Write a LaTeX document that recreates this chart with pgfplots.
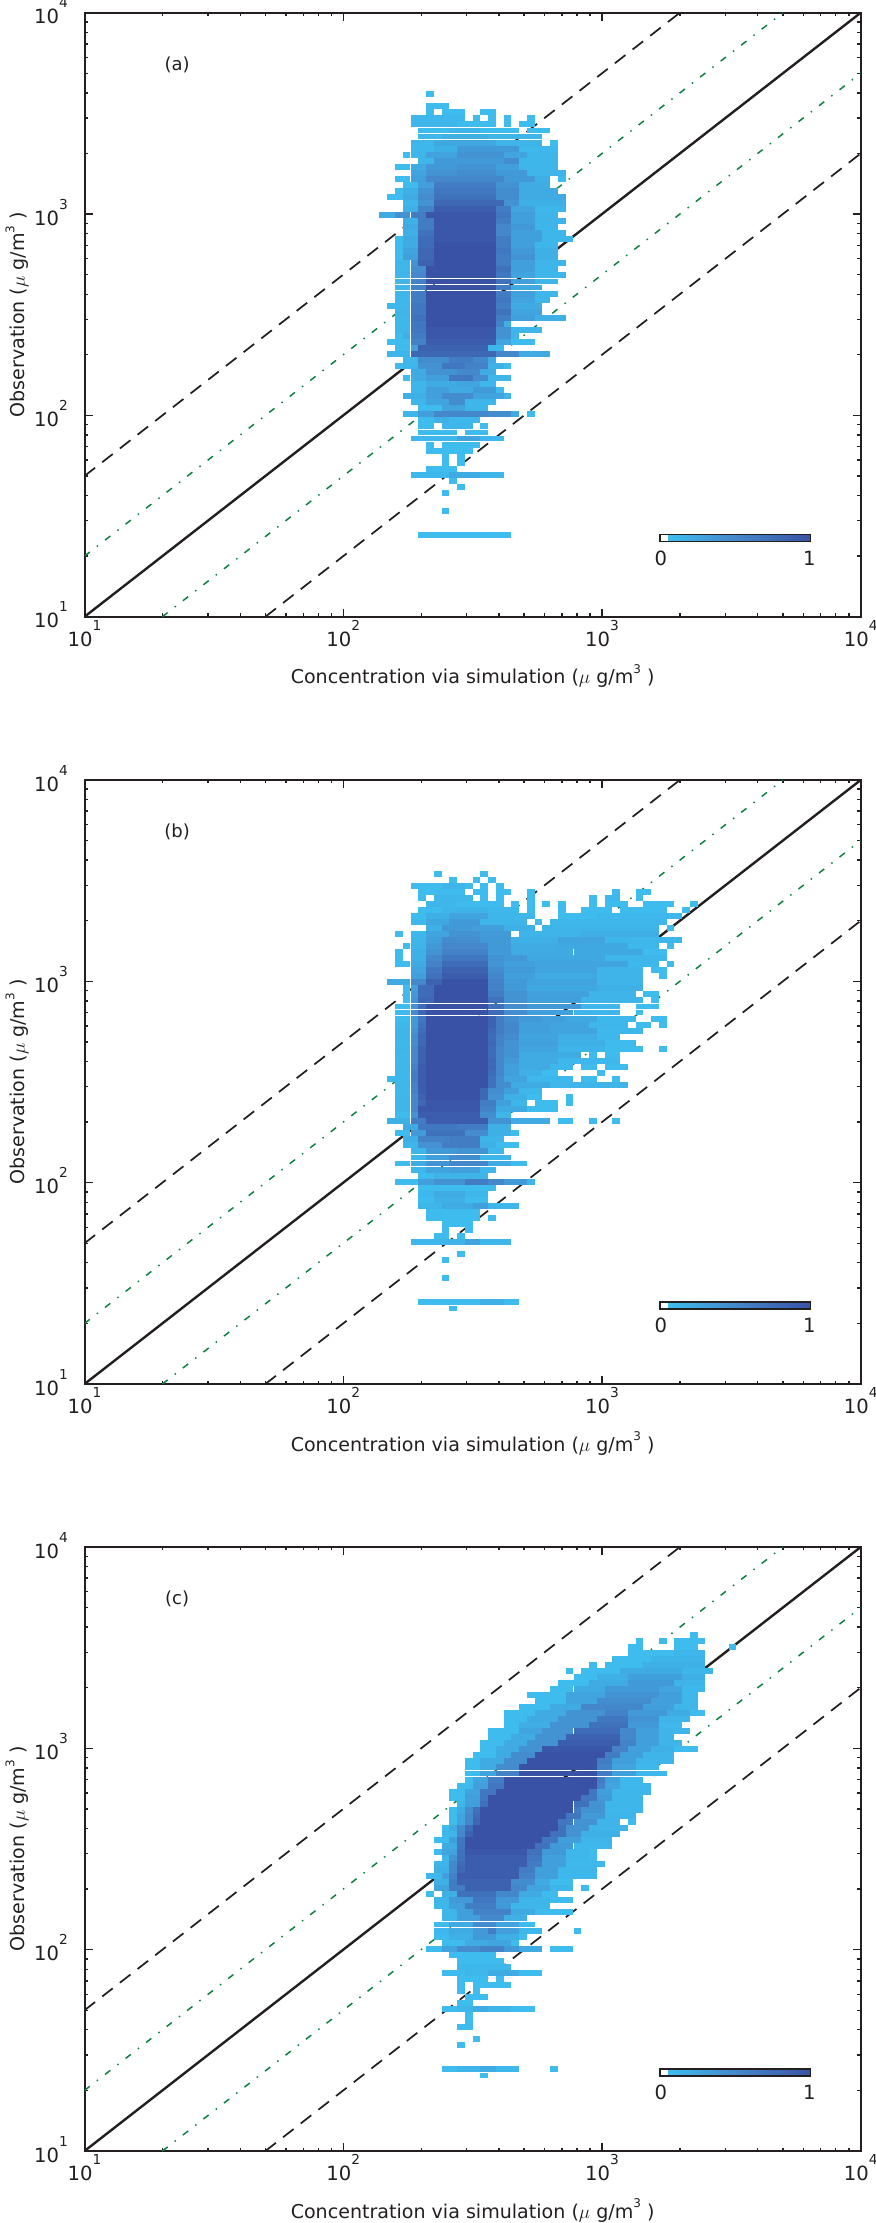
\documentclass[border=0pt]{standalone}
\usepackage{fontspec}
\setmainfont{DejaVu Sans}
\usepackage{pgfplots}
\pgfplotsset{compat=1.18}

\definecolor{ink}{RGB}{35,31,32}
\definecolor{guide}{RGB}{10,128,64}
\newcommand\tickexp[1]{10\smash{\raisebox{12pt}{\fontsize{10.3}{10}\selectfont #1}}}
\newcommand\unitlab{($\mu$ g/m\raisebox{8pt}{\fontsize{9}{9}\selectfont 3}\ )}
\providecommand\thisrow[1]{1}

% one run of neighbouring histogram cells, \runn cells wide
\pgfdeclareplotmark{run}{%
  \pgfpathrectangle{\pgfpoint{0pt}{0.04pt}}{\pgfpoint{\runn*5.82pt-0.04pt}{4.45pt}}%
  \pgfusepathqfill}
% one step of the colour key
\pgfdeclareplotmark{keystep}{%
  \pgfpathrectangle{\pgfpoint{0pt}{-2.15pt}}{\pgfpoint{2.9pt}{4.3pt}}%
  \pgfusepathqfill}

% both axes run over 100 log-spaced bins: bin 0 = 10, bin 100 = 10^4
\pgfplotsset{
  colormap={bins}{rgb255(0cm)=(255,255,255); rgb255(4.6cm)=(255,255,255); rgb255(5cm)=(62,188,238); rgb255(50cm)=(68,135,203); rgb255(100cm)=(58,82,165)},
  binpanel/.style={
    scale only axis, width=582.15pt, height=453pt,
    xmin=0, xmax=100, ymin=0, ymax=100,
    xtick={0,33.333,66.667,100}, ytick={0,33.333,66.667,100},
    xticklabels={\tickexp{1},\tickexp{2},\tickexp{3},\tickexp{4}},
    yticklabels={\tickexp{1},\tickexp{2},\tickexp{3},\tickexp{4}},
    minor xtick={10.03,15.9,20.07,23.3,25.94,28.17,30.1,31.81,43.37,49.24,53.4,56.63,59.27,61.5,63.43,65.14,76.7,82.57,86.73,89.97,92.6,94.84,96.77,98.48},
    minor ytick={10.03,15.9,20.07,23.3,25.94,28.17,30.1,31.81,43.37,49.24,53.4,56.63,59.27,61.5,63.43,65.14,76.7,82.57,86.73,89.97,92.6,94.84,96.77,98.48},
    axis line style={line width=1.5pt, color=ink},
    major tick length=6pt, minor tick length=2.6pt,
    tick style={line width=1pt, color=ink},
    tick label style={font=\fontsize{14.7}{16}\selectfont, text=ink},
    xticklabel style={yshift=-8pt},
    yticklabel style={xshift=-9pt, yshift=-3pt},
    label style={font=\fontsize{14.3}{16}\selectfont, text=ink},
    xlabel={Concentration via simulation \unitlab},
    xlabel style={at={(axis description cs:0.5,-0.111)}, anchor=base},
    ylabel={Observation \unitlab},
    ylabel style={at={(axis description cs:-0.0767,0.5)}, anchor=base},
    point meta min=0, point meta max=1
  },
  keybar/.style={
    scale only axis, width=111.5pt, height=4.3pt,
    xmin=0, xmax=1, ymin=0, ymax=1,
    axis line style={line width=1.9pt, color=ink},
    xtick={0,1}, xticklabels={0,1}, ytick=\empty, major tick length=0pt,
    tick label style={font=\fontsize{14.7}{16}\selectfont, text=ink},
    xticklabel style={yshift=-4pt},
    point meta min=0, point meta max=1,
    axis on top
  }
}
\newcommand\guides{%
  \addplot[forget plot, ink, line width=1.3pt, dash pattern=on 10pt off 6.8pt] coordinates {(0,23.3)(76.7,100)};
  \addplot[forget plot, ink, line width=1.3pt, dash pattern=on 10pt off 6.8pt] coordinates {(23.3,0)(100,76.7)};
  \addplot[forget plot, guide, line width=1.1pt, dash pattern=on 5pt off 6.7pt on 1.1pt off 6.7pt] coordinates {(0,10.03)(89.97,100)};
  \addplot[forget plot, guide, line width=1.1pt, dash pattern=on 5pt off 6.7pt on 1.1pt off 6.7pt] coordinates {(10.03,0)(100,89.97)};
  \addplot[forget plot, ink, line width=1.8pt] coordinates {(0,0)(100,100)};
}
\newcommand\keypoints{%
  \addplot[scatter, only marks, point meta=x, mark=keystep] coordinates {(0,.5)(.025,.5)(.05,.5)(.075,.5)(.1,.5)(.125,.5)(.15,.5)(.175,.5)(.2,.5)(.225,.5)(.25,.5)(.275,.5)(.3,.5)(.325,.5)(.35,.5)(.375,.5)(.4,.5)(.425,.5)(.45,.5)(.475,.5)(.5,.5)(.525,.5)(.55,.5)(.575,.5)(.6,.5)(.625,.5)(.65,.5)(.675,.5)(.7,.5)(.725,.5)(.75,.5)(.775,.5)(.8,.5)(.825,.5)(.85,.5)(.875,.5)(.9,.5)(.925,.5)(.95,.5)(.975,.5)};
}

\begin{document}
\begin{tikzpicture}
\useasboundingbox (0,0) rectangle (656.25pt,1667.25pt);
% i = first x bin, n = bins in the run, j = y bin, v = normalised count
\begin{axis}[binpanel, anchor=south west, at={(63.4pt,1204.7pt)}]
  \addplot[scatter, only marks, visualization depends on={\thisrow{n} \as \runn}, point meta=explicit, mark=run] table[row sep=\\, x=i, y=j, meta=v] {
i n j v\\
44 1 86 .05\\
44 3 84 .05\\
44 1 83 .05\\ 46 3 83 .05\\ 51 2 83 .05\\
42 7 82 .08\\ 50 1 82 .05\\ 52 1 82 .05\\ 54 1 82 .05\\ 57 1 82 .05\\
42 6 81 .1\\ 48 5 81 .05\\ 54 1 81 .05\\ 56 2 81 .05\\
43 4 80 .05\\ 47 4 80 .12\\ 51 5 80 .05\\ 57 3 80 .05\\
43 3 79 .08\\ 46 6 79 .15\\ 52 7 79 .1\\
42 3 78 .1\\ 45 8 78 .22\\ 53 6 78 .12\\ 60 1 78 .05\\
42 3 77 .08\\ 45 3 77 .15\\ 48 8 77 .35\\ 56 5 77 .08\\
41 1 76 .05\\ 42 2 76 .1\\ 44 4 76 .25\\ 48 6 76 .4\\ 54 3 76 .25\\ 57 4 76 .1\\
43 2 75 .1\\ 45 9 75 .35\\ 54 2 75 .45\\ 56 5 75 .1\\
40 2 74 .05\\ 42 2 74 .2\\ 44 4 74 .35\\ 48 5 74 .4\\ 53 3 74 .3\\ 56 5 74 .1\\
42 2 73 .25\\ 44 4 73 .4\\ 48 5 73 .45\\ 53 4 73 .35\\ 57 5 73 .12\\
40 2 72 .05\\ 42 2 72 .3\\ 44 10 72 .5\\ 54 4 72 .35\\ 58 2 72 .15\\ 61 1 72 .05\\
41 2 71 .05\\ 43 2 71 .3\\ 45 8 71 .6\\ 53 3 71 .4\\ 56 4 71 .2\\
40 1 70 .05\\ 41 2 70 .15\\ 43 2 70 .4\\ 45 8 70 .65\\ 53 3 70 .45\\ 56 5 70 .2\\
39 2 69 .05\\ 41 2 69 .2\\ 43 2 69 .45\\ 45 8 69 .7\\ 53 3 69 .45\\ 56 6 69 .2\\
41 2 68 .1\\ 43 2 68 .4\\ 45 9 68 .8\\ 54 2 68 .4\\ 56 6 68 .15\\
41 2 67 .15\\ 43 2 67 .55\\ 45 8 67 .9\\ 53 2 67 .6\\ 55 3 67 .25\\ 58 4 67 .1\\
38 2 66 .2\\ 40 2 66 .4\\ 42 2 66 .6\\ 44 9 66 .95\\ 53 2 66 .65\\ 55 3 66 .3\\ 58 3 66 .12\\
41 2 65 .15\\ 43 2 65 .6\\ 45 8 65 .95\\ 53 2 65 .6\\ 55 3 65 .3\\ 58 4 65 .12\\
41 2 64 .2\\ 43 2 64 .6\\ 45 8 64 .95\\ 53 2 64 .5\\ 55 3 64 .35\\ 58 3 64 .1\\
41 2 63 .15\\ 43 2 63 .7\\ 45 8 63 .95\\ 53 2 63 .5\\ 55 4 63 .3\\ 59 3 63 .1\\
40 1 62 .05\\ 41 2 62 .2\\ 43 2 62 .75\\ 45 8 62 .95\\ 53 2 62 .6\\ 55 4 62 .3\\ 59 4 62 .1\\
40 1 61 .05\\ 41 2 61 .2\\ 43 2 61 .75\\ 45 8 61 1\\ 53 2 61 .6\\ 55 3 61 .3\\ 58 3 61 .1\\
40 1 60 .05\\ 41 2 60 .25\\ 43 2 60 .8\\ 45 8 60 1\\ 53 2 60 .65\\ 55 3 60 .35\\ 58 3 60 .15\\
40 1 59 .05\\ 41 2 59 .3\\ 43 2 59 .8\\ 45 8 59 1\\ 53 2 59 .6\\ 55 3 59 .4\\ 58 3 59 .15\\
40 2 58 .1\\ 42 1 58 .4\\ 43 2 58 .85\\ 45 8 58 1\\ 53 2 58 .6\\ 55 3 58 .3\\ 58 4 58 .12\\
40 2 57 .08\\ 42 2 57 .45\\ 44 9 57 1\\ 53 2 57 .7\\ 55 3 57 .3\\ 58 3 57 .1\\
40 2 56 .1\\ 42 2 56 .5\\ 44 9 56 1\\ 53 2 56 .65\\ 55 3 56 .25\\ 58 4 56 .1\\
40 2 55 .1\\ 42 2 55 .55\\ 44 9 55 1\\ 53 2 55 .7\\ 55 3 55 .3\\ 58 3 55 .12\\
40 2 54 .08\\ 42 2 54 .55\\ 44 9 54 1\\ 53 2 54 .6\\ 55 4 54 .2\\
40 2 53 .1\\ 42 2 53 .6\\ 44 9 53 1\\ 53 2 53 .6\\ 55 3 53 .3\\ 58 3 53 .1\\
40 2 52 .08\\ 42 2 52 .6\\ 44 9 52 1\\ 53 2 52 .65\\ 55 3 52 .25\\ 58 2 52 .1\\
39 3 51 .08\\ 42 2 51 .65\\ 44 9 51 1\\ 53 2 51 .6\\ 55 4 51 .2\\
40 2 50 .12\\ 42 2 50 .65\\ 44 9 50 1\\ 53 2 50 .7\\ 55 4 50 .25\\
40 2 49 .1\\ 42 2 49 .7\\ 44 9 49 1\\ 53 2 49 .6\\ 55 3 49 .3\\ 58 4 49 .15\\
40 2 48 .08\\ 42 2 48 .65\\ 44 9 48 1\\ 53 1 48 .55\\ 54 1 48 .15\\
40 2 47 .1\\ 42 2 47 .65\\ 44 9 47 .95\\ 53 2 47 .4\\ 55 4 47 .1\\
40 1 46 .05\\ 41 1 46 .15\\ 42 2 46 .6\\ 44 9 46 .95\\ 53 2 46 .4\\ 55 1 46 .1\\
39 3 45 .05\\ 42 2 45 .55\\ 44 9 45 .9\\ 53 2 45 .25\\ 55 3 45 .05\\
40 2 44 .05\\ 42 1 44 .3\\ 43 9 44 .85\\ 52 2 44 .1\\
39 3 43 .1\\ 42 11 43 .8\\ 53 3 43 .5\\ 56 4 43 .2\\
41 2 42 .08\\ 43 4 42 .45\\ 47 3 42 .6\\ 50 2 42 .5\\ 52 1 42 .2\\
40 1 41 .05\\ 41 2 41 .1\\ 43 3 41 .4\\ 46 3 41 .65\\ 49 3 41 .55\\ 52 2 41 .15\\ 54 1 41 .05\\
42 2 40 .2\\ 44 4 40 .4\\ 48 3 40 .5\\ 51 2 40 .2\\
41 1 39 .05\\ 42 2 39 .2\\ 44 3 39 .3\\ 47 3 39 .65\\ 50 2 39 .45\\ 52 3 39 .1\\
42 2 38 .1\\ 44 4 38 .2\\ 48 3 38 .25\\ 51 2 38 .1\\
42 2 37 .1\\ 44 3 37 .3\\ 47 3 37 .2\\ 50 3 37 .35\\ 53 1 37 .05\\
41 3 36 .15\\ 44 2 36 .3\\ 46 4 36 .45\\ 50 4 36 .25\\ 54 1 36 .1\\
42 2 35 .1\\ 44 3 35 .25\\ 47 2 35 .45\\ 49 4 35 .1\\
43 3 34 .05\\ 46 3 34 .25\\ 49 3 34 .1\\
41 2 33 .1\\ 43 2 33 .3\\ 45 7 33 .5\\ 52 3 33 .45\\ 55 1 33 .2\\ 57 1 33 .05\\
43 2 32 .05\\ 45 2 32 .15\\ 47 4 32 .08\\
43 2 31 .05\\ 46 4 31 .1\\ 51 1 31 .05\\
43 5 30 .05\\ 49 3 30 .05\\
42 6 29 .08\\ 48 3 29 .25\\ 51 3 29 .08\\
44 1 28 .05\\ 46 5 28 .05\\
44 6 27 .05\\
46 1 26 .05\\ 48 1 26 .05\\
46 1 25 .05\\ 48 1 25 .05\\
44 4 24 .05\\
42 5 23 .08\\ 47 4 23 .2\\ 51 3 23 .1\\
47 1 22 .05\\
48 1 21 .05\\
46 1 20 .05\\
46 1 17 .05\\
43 12 13 .05\\
};
  \guides
  \node[font=\fontsize{13.5}{15}\selectfont, text=ink] at (rel axis cs:0.1192,0.9134) {(a)};
\end{axis}
\begin{axis}[keybar, anchor=south west, at={(495.55pt,1261.5pt)}]
  \keypoints
\end{axis}
\begin{axis}[binpanel, anchor=south west, at={(63.4pt,629.25pt)}]
  \addplot[scatter, only marks, visualization depends on={\thisrow{n} \as \runn}, point meta=explicit, mark=run] table[row sep=\\, x=i, y=j, meta=v] {
i n j v\\
45 1 84 .05\\ 51 1 84 .05\\
47 1 83 .05\\ 50 1 83 .05\\ 52 1 83 .05\\
42 4 82 .05\\ 46 3 82 .12\\ 49 1 82 .05\\ 51 1 82 .05\\ 53 1 82 .05\\
43 6 81 .05\\ 50 2 81 .05\\ 53 2 81 .05\\ 57 1 81 .05\\ 68 1 81 .05\\ 71 2 81 .05\\
43 1 80 .05\\ 45 5 80 .1\\ 51 1 80 .05\\ 53 1 80 .05\\ 57 1 80 .05\\ 65 1 80 .05\\ 67 2 80 .08\\ 71 1 80 .05\\
44 4 79 .1\\ 48 6 79 .05\\ 55 1 79 .05\\ 57 1 79 .05\\ 59 1 79 .05\\ 61 1 79 .05\\ 65 1 79 .05\\ 67 3 79 .05\\ 72 4 79 .05\\ 78 1 79 .05\\
43 3 78 .05\\ 46 6 78 .12\\ 52 4 78 .08\\ 57 1 78 .05\\ 61 1 78 .05\\ 64 4 78 .05\\ 69 6 78 .05\\ 77 1 78 .05\\
42 2 77 .05\\ 44 3 77 .15\\ 47 5 77 .25\\ 52 6 77 .1\\ 61 5 77 .05\\ 66 11 77 .08\\
42 2 76 .08\\ 44 3 76 .22\\ 47 4 76 .35\\ 51 6 76 .12\\ 58 1 76 .05\\ 60 15 76 .1\\
44 2 75 .15\\ 46 4 75 .35\\ 50 4 75 .3\\ 54 4 75 .15\\ 59 15 75 .12\\ 75 1 75 .05\\
40 1 74 .05\\ 42 2 74 .08\\ 44 3 74 .25\\ 47 4 74 .4\\ 51 4 74 .35\\ 56 8 74 .12\\ 64 10 74 .18\\
42 2 73 .1\\ 44 2 73 .3\\ 46 5 73 .45\\ 51 4 73 .35\\ 55 6 73 .15\\ 61 6 73 .25\\ 67 10 73 .1\\
41 1 72 .05\\ 42 2 72 .12\\ 44 2 72 .35\\ 46 6 72 .5\\ 52 3 72 .35\\ 55 6 72 .2\\ 61 9 72 .22\\ 70 4 72 .08\\ 75 1 72 .05\\
40 1 71 .05\\ 42 2 71 .15\\ 44 2 71 .4\\ 46 6 71 .55\\ 52 3 71 .35\\ 55 8 71 .2\\ 63 9 71 .22\\ 72 3 71 .05\\
40 1 70 .05\\ 42 2 70 .15\\ 44 2 70 .5\\ 46 6 70 .65\\ 52 2 70 .4\\ 54 3 70 .35\\ 57 10 70 .22\\ 67 8 70 .1\\
40 2 69 .05\\ 42 2 69 .2\\ 44 2 69 .55\\ 46 6 69 .75\\ 52 2 69 .4\\ 54 4 69 .3\\ 58 12 69 .25\\ 70 4 69 .08\\ 75 1 69 .05\\
42 2 68 .25\\ 44 2 68 .65\\ 46 6 68 .85\\ 52 2 68 .45\\ 54 4 68 .35\\ 58 8 68 .25\\ 66 6 68 .12\\ 73 2 68 .05\\
42 2 67 .3\\ 44 2 67 .7\\ 46 6 67 .9\\ 52 2 67 .5\\ 54 4 67 .3\\ 58 8 67 .2\\ 66 6 67 .12\\ 74 1 67 .05\\
39 3 66 .2\\ 42 2 66 .5\\ 44 2 66 .85\\ 46 6 66 1\\ 52 2 66 .55\\ 54 3 66 .35\\ 57 9 66 .25\\ 66 6 66 .12\\
41 1 65 .05\\ 42 1 65 .3\\ 43 2 65 .75\\ 45 7 65 1\\ 52 2 65 .55\\ 54 3 65 .35\\ 57 9 65 .22\\ 66 6 65 .15\\
41 1 64 .05\\ 42 1 64 .35\\ 43 2 64 .75\\ 45 7 64 1\\ 52 2 64 .6\\ 54 3 64 .4\\ 57 8 64 .28\\ 65 6 64 .12\\ 72 2 64 .05\\
41 1 63 .05\\ 42 1 63 .4\\ 43 2 63 .8\\ 45 7 63 1\\ 52 2 63 .7\\ 54 3 63 .4\\ 57 7 63 .3\\ 64 8 63 .12\\ 73 1 63 .05\\
40 2 62 .05\\ 42 1 62 .4\\ 43 1 62 .75\\ 44 8 62 1\\ 52 2 62 .7\\ 54 3 62 .45\\ 57 7 62 .35\\ 64 5 62 .08\\ 71 3 62 .05\\
40 2 61 .05\\ 42 1 61 .45\\ 43 1 61 .8\\ 44 8 61 1\\ 52 2 61 .75\\ 54 3 61 .45\\ 57 6 61 .3\\ 63 6 61 .1\\ 71 1 61 .05\\
40 2 60 .05\\ 42 1 60 .35\\ 43 1 60 .65\\ 44 8 60 1\\ 52 1 60 .85\\ 53 1 60 .6\\ 54 2 60 .45\\ 56 3 60 .35\\ 59 3 60 .3\\ 62 4 60 .22\\ 66 5 60 .08\\ 73 2 60 .05\\
40 2 59 .08\\ 42 1 59 .35\\ 43 1 59 .7\\ 44 8 59 1\\ 52 1 59 .85\\ 53 1 59 .6\\ 54 2 59 .5\\ 56 4 59 .3\\ 60 5 59 .25\\ 65 5 59 .1\\ 71 2 59 .05\\ 74 1 59 .05\\
40 2 58 .12\\ 42 1 58 .4\\ 43 1 58 .75\\ 44 8 58 1\\ 52 1 58 .8\\ 53 1 58 .6\\ 54 2 58 .5\\ 56 4 58 .3\\ 60 6 58 .25\\ 66 6 58 .08\\
40 2 57 .1\\ 42 1 57 .45\\ 43 1 57 .8\\ 44 8 57 1\\ 52 1 57 .75\\ 53 1 57 .55\\ 54 2 57 .45\\ 56 5 57 .25\\ 61 5 57 .18\\ 66 3 57 .08\\
40 2 56 .08\\ 42 1 56 .45\\ 43 1 56 .8\\ 44 8 56 1\\ 52 1 56 .8\\ 53 1 56 .55\\ 54 2 56 .4\\ 56 5 56 .28\\ 61 6 56 .15\\ 67 4 56 .05\\
40 2 55 .1\\ 42 1 55 .5\\ 43 1 55 .85\\ 44 8 55 1\\ 52 1 55 .75\\ 53 1 55 .5\\ 54 2 55 .4\\ 56 5 55 .25\\ 61 6 55 .12\\ 67 5 55 .05\\ 74 1 55 .05\\
40 2 54 .08\\ 42 1 54 .5\\ 43 1 54 .85\\ 44 8 54 1\\ 52 1 54 .75\\ 53 1 54 .5\\ 54 2 54 .4\\ 56 8 54 .2\\ 65 1 54 .05\\ 67 2 54 .05\\
40 2 53 .08\\ 42 1 53 .5\\ 43 1 53 .85\\ 44 8 53 1\\ 52 1 53 .8\\ 53 1 53 .5\\ 54 2 53 .35\\ 56 5 53 .2\\ 61 8 53 .08\\
40 2 52 .1\\ 42 1 52 .55\\ 43 1 52 .9\\ 44 8 52 1\\ 52 1 52 .8\\ 53 1 52 .5\\ 54 2 52 .3\\ 56 4 52 .2\\ 60 3 52 .08\\ 64 2 52 .05\\ 67 3 52 .05\\
40 2 51 .08\\ 42 1 51 .6\\ 43 1 51 .9\\ 44 8 51 1\\ 52 1 51 .75\\ 53 1 51 .5\\ 54 2 51 .3\\ 56 3 51 .15\\ 59 2 51 .05\\ 66 1 51 .05\\
39 3 50 .08\\ 42 1 50 .6\\ 43 1 50 .9\\ 44 8 50 1\\ 52 1 50 .7\\ 53 1 50 .45\\ 54 3 50 .25\\ 57 6 50 .08\\ 64 2 50 .05\\ 68 1 50 .05\\
40 2 49 .1\\ 42 1 49 .55\\ 43 1 49 .9\\ 44 8 49 1\\ 52 1 49 .7\\ 53 2 49 .45\\ 55 5 49 .2\\ 60 5 49 .1\\ 65 5 49 .12\\
40 2 48 .08\\ 42 1 48 .55\\ 43 1 48 .9\\ 44 7 48 1\\ 51 1 48 .8\\ 52 2 48 .45\\ 54 2 48 .3\\ 56 3 48 .1\\
40 2 47 .1\\ 42 1 47 .5\\ 43 1 47 .85\\ 44 7 47 1\\ 51 1 47 .8\\ 52 2 47 .4\\ 54 3 47 .15\\ 57 2 47 .05\\ 62 1 47 .05\\
40 2 46 .1\\ 42 1 46 .5\\ 43 1 46 .8\\ 44 7 46 .95\\ 51 2 46 .6\\ 53 2 46 .3\\ 55 2 46 .1\\ 58 3 46 .05\\ 62 1 46 .05\\
40 2 45 .1\\ 42 1 45 .5\\ 43 8 45 .95\\ 51 2 45 .55\\ 53 4 45 .2\\ 57 4 45 .05\\
40 2 44 .05\\ 42 1 44 .4\\ 43 8 44 .9\\ 51 2 44 .45\\ 53 2 44 .1\\
39 3 43 .15\\ 42 2 43 .6\\ 44 8 43 .9\\ 52 3 43 .4\\ 55 5 43 .2\\ 61 2 43 .05\\ 65 1 43 .05\\ 68 1 43 .05\\
41 2 42 .2\\ 43 5 42 .65\\ 48 4 42 .6\\ 52 3 42 .15\\
40 2 41 .05\\ 42 2 41 .35\\ 44 5 41 .7\\ 49 3 41 .45\\ 52 3 41 .15\\ 55 1 41 .05\\
41 2 40 .15\\ 43 4 40 .55\\ 47 4 40 .6\\ 51 3 40 .12\\
41 2 39 .1\\ 43 3 39 .4\\ 46 5 39 .6\\ 51 2 39 .15\\ 53 3 39 .05\\
42 2 38 .1\\ 44 4 38 .35\\ 48 4 38 .4\\ 52 2 38 .08\\
42 2 37 .08\\ 44 3 37 .3\\ 47 4 37 .45\\ 51 4 37 .1\\
40 2 36 .05\\ 42 2 36 .2\\ 44 3 36 .4\\ 47 5 36 .5\\ 52 3 36 .2\\ 55 2 36 .05\\
42 2 35 .1\\ 44 3 35 .25\\ 47 4 35 .3\\ 51 2 35 .1\\
43 2 34 .05\\ 45 7 34 .12\\
40 3 33 .05\\ 43 2 33 .3\\ 45 4 33 .4\\ 49 3 33 .6\\ 52 2 33 .5\\ 54 3 33 .35\\ 57 1 33 .1\\
43 10 32 .05\\
43 2 31 .08\\ 45 4 31 .2\\ 49 3 31 .1\\
43 2 30 .05\\ 45 4 30 .15\\ 49 3 30 .05\\
43 3 29 .1\\ 46 4 29 .2\\ 50 2 29 .3\\ 52 4 29 .1\\
44 7 28 .05\\
44 7 27 .05\\ 52 1 27 .05\\
46 4 26 .05\\
46 1 25 .05\\ 49 1 25 .05\\
45 2 24 .05\\ 48 1 24 .05\\
42 4 23 .08\\ 46 3 23 .12\\ 49 2 23 .25\\ 51 4 23 .1\\
48 1 21 .05\\
46 1 20 .05\\
46 1 17 .05\\
43 8 13 .05\\ 51 3 13 .15\\ 54 2 13 .05\\
47 1 12 .05\\
};
  \guides
  \node[font=\fontsize{13.5}{15}\selectfont, text=ink] at (rel axis cs:0.1192,0.9134) {(b)};
\end{axis}
\begin{axis}[keybar, anchor=south west, at={(495.55pt,686.05pt)}]
  \keypoints
\end{axis}
\begin{axis}[binpanel, anchor=south west, at={(63.4pt,54pt)}]
  \addplot[scatter, only marks, visualization depends on={\thisrow{n} \as \runn}, point meta=explicit, mark=run] table[row sep=\\, x=i, y=j, meta=v] {
i n j v\\
78 1 85 .05\\
71 1 84 .05\\ 74 1 84 .05\\ 76 4 84 .05\\
70 2 83 .05\\ 76 3 83 .05\\ 83 1 83 .05\\
70 6 82 .05\\ 76 4 82 .1\\
68 5 81 .05\\ 73 7 81 .12\\
65 1 80 .05\\ 67 5 80 .05\\ 72 8 80 .15\\
62 1 79 .05\\ 64 5 79 .05\\ 69 8 79 .2\\ 77 4 79 .1\\
63 3 78 .05\\ 66 4 78 .15\\ 70 7 78 .3\\ 77 3 78 .15\\
61 4 77 .05\\ 65 5 77 .2\\ 70 6 77 .35\\ 76 4 77 .12\\
60 3 76 .05\\ 63 4 76 .2\\ 67 7 76 .35\\ 74 3 76 .25\\ 77 3 76 .08\\
57 5 75 .05\\ 62 5 75 .25\\ 67 7 75 .4\\ 74 3 75 .3\\ 77 2 75 .08\\
58 4 74 .05\\ 62 4 74 .25\\ 66 7 74 .45\\ 73 4 74 .3\\ 77 2 74 .1\\
56 4 73 .05\\ 60 4 73 .2\\ 64 8 73 .5\\ 72 4 73 .3\\ 76 3 73 .1\\
54 4 72 .05\\ 58 4 72 .2\\ 62 5 72 .4\\ 67 3 72 .55\\ 70 5 72 .35\\ 75 3 72 .2\\ 78 2 72 .05\\
54 3 71 .05\\ 57 4 71 .2\\ 61 5 71 .4\\ 66 4 71 .65\\ 70 4 71 .4\\ 74 4 71 .12\\
54 2 70 .05\\ 56 4 70 .18\\ 60 5 70 .4\\ 65 5 70 .7\\ 70 4 70 .35\\ 74 3 70 .08\\
52 4 69 .05\\ 56 3 69 .25\\ 59 4 69 .4\\ 63 6 69 .75\\ 69 2 69 .5\\ 71 3 69 .3\\ 74 4 69 .12\\
52 3 68 .05\\ 55 3 68 .2\\ 58 4 68 .4\\ 62 7 68 .85\\ 69 2 68 .5\\ 71 3 68 .3\\ 74 2 68 .12\\
51 3 67 .05\\ 54 3 67 .2\\ 57 4 67 .4\\ 61 8 67 .9\\ 69 2 67 .55\\ 71 3 67 .3\\ 74 3 67 .12\\
51 2 66 .05\\ 53 3 66 .2\\ 56 3 66 .4\\ 59 9 66 .95\\ 68 2 66 .55\\ 70 3 66 .3\\ 73 3 66 .15\\ 76 3 66 .05\\
50 3 65 .05\\ 53 2 65 .2\\ 55 3 65 .45\\ 58 9 65 1\\ 67 2 65 .6\\ 69 3 65 .3\\ 72 4 65 .12\\
49 2 64 .05\\ 51 3 64 .2\\ 54 3 64 .45\\ 57 9 64 1\\ 66 2 64 .6\\ 68 3 64 .3\\ 71 5 64 .12\\
49 2 63 .05\\ 51 2 63 .2\\ 53 3 63 .45\\ 56 10 63 1\\ 66 2 63 .55\\ 68 3 63 .25\\ 71 3 63 .08\\
49 2 62 .05\\ 51 2 62 .25\\ 53 3 62 .55\\ 56 10 62 1\\ 66 2 62 .6\\ 68 3 62 .3\\ 71 4 62 .08\\
49 1 61 .05\\ 50 2 61 .25\\ 52 2 61 .6\\ 54 12 61 1\\ 66 1 61 .6\\ 67 2 61 .3\\ 69 3 61 .08\\
48 2 60 .05\\ 50 2 60 .3\\ 52 2 60 .65\\ 54 12 60 1\\ 66 1 60 .55\\ 67 2 60 .25\\ 69 4 60 .08\\
47 2 59 .05\\ 49 2 59 .25\\ 51 2 59 .65\\ 53 12 59 1\\ 65 1 59 .65\\ 66 2 59 .3\\ 68 5 59 .1\\
47 2 58 .05\\ 49 2 58 .3\\ 51 1 58 .65\\ 52 12 58 1\\ 64 2 58 .65\\ 66 2 58 .35\\ 68 4 58 .1\\
48 1 57 .1\\ 49 2 57 .3\\ 51 1 57 .7\\ 52 11 57 1\\ 63 2 57 .7\\ 65 2 57 .4\\ 67 5 57 .1\\
47 1 56 .05\\ 48 1 56 .2\\ 49 1 56 .45\\ 50 1 56 .7\\ 51 12 56 1\\ 63 1 56 .6\\ 64 3 56 .4\\ 67 5 56 .1\\
47 1 55 .05\\ 48 1 55 .25\\ 49 1 55 .5\\ 50 1 55 .75\\ 51 11 55 1\\ 62 2 55 .65\\ 64 3 55 .35\\ 67 4 55 .12\\
47 1 54 .05\\ 48 1 54 .25\\ 49 1 54 .5\\ 50 1 54 .8\\ 51 10 54 1\\ 61 2 54 .65\\ 63 3 54 .4\\ 66 3 54 .12\\ 70 1 54 .05\\
46 1 53 .05\\ 47 1 53 .2\\ 48 1 53 .45\\ 49 1 53 .75\\ 50 11 53 1\\ 61 1 53 .7\\ 62 3 53 .4\\ 65 5 53 .12\\
46 2 52 .1\\ 48 1 52 .5\\ 49 1 52 .85\\ 50 10 52 1\\ 60 2 52 .7\\ 62 2 52 .4\\ 64 5 52 .15\\
45 2 51 .05\\ 47 1 51 .3\\ 48 1 51 .65\\ 49 10 51 1\\ 59 2 51 .65\\ 61 3 51 .3\\ 64 4 51 .12\\
46 2 50 .2\\ 48 1 50 .65\\ 49 9 50 1\\ 58 2 50 .7\\ 60 3 50 .35\\ 63 5 50 .08\\
45 1 49 .05\\ 46 2 49 .25\\ 48 1 49 .7\\ 49 8 49 .95\\ 57 2 49 .7\\ 59 3 49 .35\\ 62 3 49 .1\\ 65 1 49 .05\\
46 1 48 .1\\ 47 1 48 .4\\ 48 1 48 .7\\ 49 8 48 .9\\ 57 2 48 .65\\ 59 3 48 .3\\ 62 3 48 .1\\ 65 1 48 .05\\
45 2 47 .12\\ 47 1 47 .5\\ 48 1 47 .75\\ 49 8 47 .9\\ 57 2 47 .6\\ 59 3 47 .3\\ 62 5 47 .08\\
45 2 46 .15\\ 47 1 46 .5\\ 48 1 46 .8\\ 49 7 46 .9\\ 56 2 46 .6\\ 58 3 46 .3\\ 61 5 46 .1\\
44 2 45 .08\\ 46 1 45 .3\\ 47 1 45 .55\\ 48 8 45 .9\\ 56 2 45 .55\\ 58 3 45 .3\\ 61 5 45 .08\\
45 2 44 .15\\ 47 1 44 .6\\ 48 7 44 .85\\ 55 3 44 .45\\ 58 2 44 .2\\ 60 3 44 .05\\
45 2 43 .25\\ 47 2 43 .6\\ 49 6 43 .85\\ 55 2 43 .5\\ 57 3 43 .25\\ 60 3 43 .1\\ 64 1 43 .05\\
44 1 42 .05\\ 46 2 42 .15\\ 48 5 42 .7\\ 53 3 42 .5\\ 56 3 42 .2\\ 59 2 42 .05\\
45 2 41 .1\\ 47 3 41 .35\\ 50 3 41 .65\\ 53 3 41 .35\\ 56 4 41 .1\\ 60 3 41 .05\\
45 2 40 .08\\ 47 2 40 .3\\ 49 4 40 .6\\ 53 2 40 .35\\ 55 5 40 .1\\
46 2 39 .1\\ 48 2 39 .3\\ 50 5 39 .55\\ 55 3 39 .2\\ 58 5 39 .05\\
46 2 38 .1\\ 48 3 38 .3\\ 51 3 38 .5\\ 54 3 38 .15\\
45 2 37 .05\\ 47 3 37 .2\\ 50 3 37 .45\\ 53 3 37 .25\\ 56 2 37 .05\\
45 2 36 .08\\ 47 3 36 .2\\ 50 2 36 .35\\ 52 1 36 .6\\ 53 3 36 .3\\ 56 3 36 .08\\ 63 1 36 .05\\
45 2 35 .05\\ 47 3 35 .15\\ 50 3 35 .35\\ 53 3 35 .15\\ 56 1 35 .05\\
46 3 34 .05\\ 49 3 34 .2\\ 52 3 34 .25\\ 55 1 34 .05\\
44 2 33 .05\\ 46 2 33 .25\\ 48 3 33 .45\\ 51 3 33 .55\\ 54 2 33 .35\\ 56 3 33 .2\\ 60 3 33 .05\\
47 6 32 .05\\
48 6 31 .05\\
48 7 30 .08\\
46 3 29 .05\\ 49 3 29 .1\\ 52 4 29 .2\\ 56 3 29 .05\\
48 4 28 .05\\ 53 1 28 .05\\
48 1 27 .05\\ 50 5 27 .05\\
48 1 26 .05\\ 50 1 26 .05\\
49 3 25 .05\\
48 2 24 .05\\
46 2 23 .05\\ 48 2 23 .1\\ 50 2 23 .2\\ 52 3 23 .12\\ 55 2 23 .05\\ 57 1 23 .05\\
49 1 22 .05\\
49 1 21 .05\\
48 2 20 .05\\
50 1 18 .05\\
48 1 17 .05\\
46 2 13 .05\\ 48 3 13 .12\\ 51 2 13 .2\\ 53 3 13 .08\\ 60 1 13 .05\\
51 1 12 .05\\
};
  \guides
  \node[font=\fontsize{13.5}{15}\selectfont, text=ink] at (rel axis cs:0.1192,0.9134) {(c)};
\end{axis}
\begin{axis}[keybar, anchor=south west, at={(495.55pt,110.8pt)}]
  \keypoints
\end{axis}
\end{tikzpicture}
\end{document}
